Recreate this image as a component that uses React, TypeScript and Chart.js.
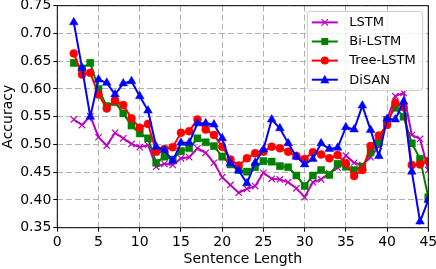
import React, { useEffect, useRef } from 'react';
import { Chart, registerables } from 'chart.js';

Chart.register(...registerables);

const sentenceLengths = [2, 3, 4, 5, 6, 7, 8, 9, 10, 11, 12, 13, 14, 15, 16, 17, 18, 19, 20, 21, 22, 23, 24, 25, 26, 27, 28, 29, 30, 31, 32, 33, 34, 35, 36, 37, 38, 39, 40, 41, 42, 43, 44, 45];

const lstm = [0.545, 0.535, 0.551, 0.513, 0.498, 0.521, 0.511, 0.501, 0.495, 0.499, 0.460, 0.465, 0.463, 0.475, 0.477, 0.493, 0.485, 0.467, 0.441, 0.427, 0.413, 0.420, 0.425, 0.449, 0.438, 0.437, 0.432, 0.421, 0.405, 0.432, 0.437, 0.448, 0.458, 0.480, 0.467, 0.463, 0.477, 0.497, 0.545, 0.587, 0.593, 0.517, 0.510, 0.454];

const biLstm = [0.647, 0.637, 0.647, 0.600, 0.569, 0.576, 0.556, 0.534, 0.520, 0.511, 0.467, 0.478, 0.473, 0.488, 0.493, 0.511, 0.504, 0.497, 0.478, 0.464, 0.454, 0.451, 0.459, 0.470, 0.469, 0.461, 0.459, 0.444, 0.425, 0.444, 0.454, 0.445, 0.465, 0.460, 0.454, 0.460, 0.486, 0.503, 0.544, 0.566, 0.550, 0.502, 0.474, 0.405];

const treeLstm = [0.664, 0.626, 0.629, 0.590, 0.565, 0.579, 0.571, 0.547, 0.530, 0.537, 0.487, 0.492, 0.495, 0.521, 0.524, 0.545, 0.527, 0.517, 0.496, 0.473, 0.462, 0.475, 0.484, 0.487, 0.496, 0.493, 0.487, 0.479, 0.474, 0.486, 0.482, 0.475, 0.481, 0.466, 0.443, 0.454, 0.497, 0.516, 0.535, 0.575, 0.567, 0.463, 0.464, 0.470];

const disan = [0.720, 0.638, 0.550, 0.617, 0.611, 0.590, 0.610, 0.614, 0.587, 0.561, 0.496, 0.490, 0.470, 0.503, 0.503, 0.538, 0.538, 0.536, 0.511, 0.466, 0.453, 0.430, 0.467, 0.491, 0.545, 0.529, 0.502, 0.478, 0.464, 0.474, 0.502, 0.492, 0.494, 0.531, 0.527, 0.570, 0.526, 0.479, 0.546, 0.545, 0.577, 0.451, 0.361, 0.400];

const seriesNames = ['LSTM', 'Bi-LSTM', 'Tree-LSTM', 'DiSAN'];
const seriesColors = ['#bf00bf', '#008000', '#ff0000', '#0000ff'];
const seriesMarkers = ['crossRot', 'rect', 'circle', 'triangle'];

const xTicks = [0, 5, 10, 15, 20, 25, 30, 35, 40, 45];
const yTicks = [0.35, 0.40, 0.45, 0.50, 0.55, 0.60, 0.65, 0.70, 0.75];

const FONT = 'DejaVu Sans';

function drawMarker(ctx: CanvasRenderingContext2D, style: string, x: number, y: number, color: string) {
  ctx.save();
  ctx.fillStyle = color;
  ctx.strokeStyle = color;
  ctx.lineWidth = 1.2;
  ctx.beginPath();
  if (style === 'circle') {
    ctx.arc(x, y, 4, 0, Math.PI * 2);
    ctx.fill();
  } else if (style === 'rect') {
    ctx.rect(x - 3.5, y - 3.5, 7, 7);
    ctx.fill();
  } else if (style === 'triangle') {
    ctx.moveTo(x, y - 5);
    ctx.lineTo(x + 4.5, y + 3.5);
    ctx.lineTo(x - 4.5, y + 3.5);
    ctx.closePath();
    ctx.fill();
  } else {
    const d = 3.2;
    ctx.moveTo(x - d, y - d);
    ctx.lineTo(x + d, y + d);
    ctx.moveTo(x + d, y - d);
    ctx.lineTo(x - d, y + d);
    ctx.stroke();
  }
  ctx.restore();
}

const framePlugin = {
  id: 'frameAndLegend',
  afterDraw(chart: any) {
    const { ctx, chartArea } = chart;
    const { left, top, right, bottom } = chartArea;
    ctx.save();
    ctx.strokeStyle = '#000';
    ctx.lineWidth = 1;
    ctx.strokeRect(left, top, right - left, bottom - top);

    // legend
    const bx = right - 121;
    const by = top + 5.7;
    const bw = 115.4;
    const bh = 79;
    const r = 3;
    ctx.beginPath();
    ctx.moveTo(bx + r, by);
    ctx.lineTo(bx + bw - r, by);
    ctx.arcTo(bx + bw, by, bx + bw, by + r, r);
    ctx.lineTo(bx + bw, by + bh - r);
    ctx.arcTo(bx + bw, by + bh, bx + bw - r, by + bh, r);
    ctx.lineTo(bx + r, by + bh);
    ctx.arcTo(bx, by + bh, bx, by + bh - r, r);
    ctx.lineTo(bx, by + r);
    ctx.arcTo(bx, by, bx + r, by, r);
    ctx.closePath();
    ctx.fillStyle = 'rgba(255,255,255,0.8)';
    ctx.fill();
    ctx.strokeStyle = '#cccccc';
    ctx.lineWidth = 1;
    ctx.stroke();

    chart.data.datasets.forEach((ds: any, i: number) => {
      const y = by + 11 + i * 19.1;
      const x0 = bx + 4.5;
      const x1 = x0 + 26;
      ctx.strokeStyle = ds.borderColor;
      ctx.lineWidth = 2;
      ctx.beginPath();
      ctx.moveTo(x0, y);
      ctx.lineTo(x1, y);
      ctx.stroke();
      drawMarker(ctx, ds.pointStyle, (x0 + x1) / 2, y, ds.borderColor);
      ctx.fillStyle = '#000';
      ctx.font = `13px "${FONT}"`;
      ctx.textAlign = 'left';
      ctx.textBaseline = 'middle';
      ctx.fillText(ds.label, bx + 42, y + 0.5);
    });
    ctx.restore();
  },
};

export default function App() {
  const canvasRef = useRef<HTMLCanvasElement | null>(null);

  useEffect(() => {
    const canvas = canvasRef.current;
    if (!canvas) return;
    const seriesValues = [lstm, biLstm, treeLstm, disan];
    const datasets = seriesValues.map((vals, i) => ({
      label: seriesNames[i],
      data: sentenceLengths.map((x, j) => ({ x, y: vals[j] })),
      borderColor: seriesColors[i],
      backgroundColor: seriesColors[i],
      pointBackgroundColor: seriesColors[i],
      pointBorderColor: seriesColors[i],
      pointStyle: seriesMarkers[i],
      pointRadius: seriesMarkers[i] === 'rect' ? 5 : seriesMarkers[i] === 'circle' ? 4 : seriesMarkers[i] === 'triangle' ? 5 : 4.5,
      pointBorderWidth: seriesMarkers[i] === 'crossRot' ? 1.2 : 0.5,
      borderWidth: 2,
      tension: 0,
      fill: false,
      clip: 0,
      order: 4 - i,
    }));

    const chart = new Chart(canvas, {
      type: 'line',
      data: { datasets },
      options: {
        responsive: false,
        animation: false,
        devicePixelRatio: 1,
        layout: { padding: { top: 5.3, right: 7.7, left: 0, bottom: 0 } },
        plugins: {
          legend: { display: false },
          tooltip: { enabled: false },
        },
        scales: {
          x: {
            type: 'linear',
            min: 0,
            max: 45,
            afterBuildTicks: (s: any) => {
              s.ticks = xTicks.map((v) => ({ value: v }));
            },
            afterFit: (s: any) => {
              s.height = 41.3;
              s.paddingLeft = 0;
              s.paddingRight = 0;
            },
            ticks: {
              color: '#000',
              font: { family: FONT, size: 14 },
              padding: 2,
              maxRotation: 0,
              autoSkip: false,
            },
            grid: {
              color: '#b0b0b0',
              lineWidth: 1,
              tickColor: '#000',
              tickLength: 4,
              tickWidth: 1,
            },
            border: { display: false, dash: [6, 3] },
            title: {
              display: true,
              text: 'Sentence Length',
              color: '#000',
              font: { family: FONT, size: 14 },
              padding: { top: 0, bottom: 1 },
            },
          },
          y: {
            type: 'linear',
            min: 0.35,
            max: 0.75,
            afterBuildTicks: (s: any) => {
              s.ticks = yTicks.map((v) => ({ value: v }));
            },
            afterFit: (s: any) => {
              s.width = 57.3;
              s.paddingTop = 0;
              s.paddingBottom = 0;
            },
            ticks: {
              color: '#000',
              font: { family: FONT, size: 14 },
              padding: 2,
              autoSkip: false,
              callback: (v: any) => Number(v).toFixed(2),
            },
            grid: {
              color: '#b0b0b0',
              lineWidth: 1,
              tickColor: '#000',
              tickLength: 4,
              tickWidth: 1,
            },
            border: { display: false, dash: [6, 3] },
            title: {
              display: true,
              text: 'Accuracy',
              color: '#000',
              font: { family: FONT, size: 14 },
              padding: { top: 0, bottom: 0 },
            },
          },
        },
      },
      plugins: [framePlugin],
    } as any);

    return () => {
      chart.destroy();
    };
  }, []);

  return (
    <div style={{ position: 'absolute', left: 0, top: 0, width: 436, height: 269 }}>
      <canvas ref={canvasRef} width={436} height={269} style={{ display: 'block', width: 436, height: 269 }} />
    </div>
  );
}
